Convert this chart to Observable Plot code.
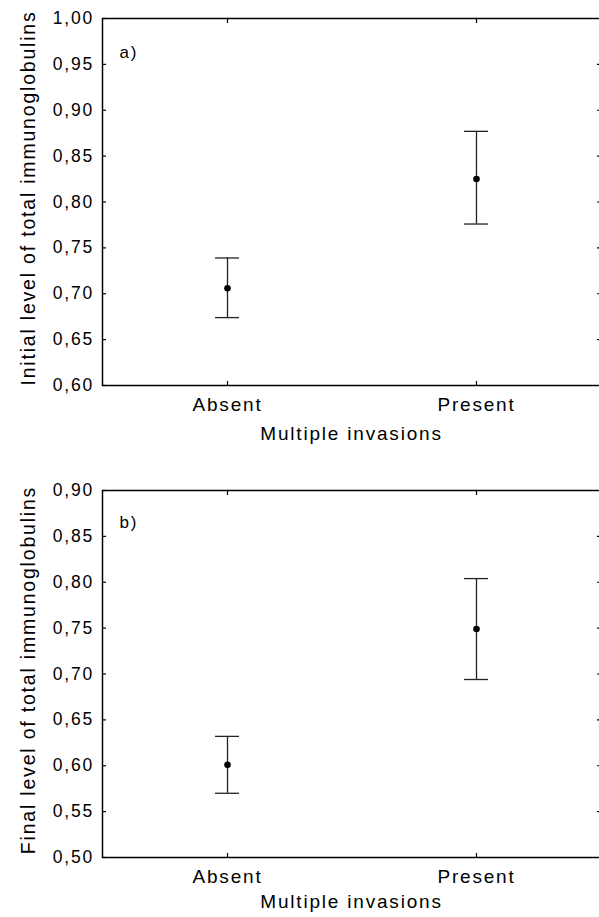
<!DOCTYPE html>
<html>
<head>
<meta charset="utf-8">
<script src="https://cdn.jsdelivr.net/npm/d3@7"></script>
<script src="https://cdn.jsdelivr.net/npm/@observablehq/plot@0.6"></script>
<style>
  html, body { margin: 0; padding: 0; background: #fff; }
  #chart svg { display: block; }
</style>
</head>
<body>
<div id="chart"></div>
<script>
const categories = ["Absent", "Present"];
const initialMean = [0.706, 0.825];
const initialLower = [0.674, 0.776];
const initialUpper = [0.739, 0.877];
const finalMean = [0.601, 0.749];
const finalLower = [0.570, 0.694];
const finalUpper = [0.632, 0.804];
const yTicksA = [0.60, 0.65, 0.70, 0.75, 0.80, 0.85, 0.90, 0.95, 1.00];
const yTicksB = [0.50, 0.55, 0.60, 0.65, 0.70, 0.75, 0.80, 0.85, 0.90];
const xLabel = "Multiple invasions";
const yLabelA = "Initial level of total immunoglobulins";
const yLabelB = "Final level of total immunoglobulins";
const panelLabels = ["a)", "b)"];

const fmt = d => d.toFixed(2).replace(".", ",");

function panel({mean, lower, upper, yTicks, yLabel, tag, height, marginTop, marginBottom, tagDy, xLabelDy}) {
  const data = categories.map((c, i) => ({cat: c, mean: mean[i], lo: lower[i], hi: upper[i]}));
  return Plot.plot({
    width: 599,
    height,
    marginTop,
    marginBottom,
    marginLeft: 102,
    marginRight: -1,
    style: {
      fontFamily: "'Liberation Sans', Arial, Helvetica, sans-serif",
      fontSize: "19px",
      letterSpacing: "1.8px",
      color: "black",
      background: "white",
      overflow: "hidden"
    },
    x: {type: "point", domain: categories, padding: 0.5},
    y: {domain: [yTicks[0], yTicks[yTicks.length - 1]]},
    marks: [
      Plot.frame({stroke: "black", strokeWidth: 1.5}),
      Plot.axisY(yTicks, {anchor: "left", tickSize: -4, tickPadding: 12.5, tickFormat: fmt, fontSize: 17.5, label: null, strokeWidth: 1.2}),
      Plot.axisY(yTicks, {anchor: "right", tickSize: -4, tickFormat: () => "", label: null, strokeWidth: 1.2}),
      Plot.axisX({anchor: "bottom", tickSize: -4, tickPadding: 15.5, label: null, strokeWidth: 1.2}),
      Plot.axisX({anchor: "top", tickSize: -4, tickFormat: () => "", label: null, strokeWidth: 1.2}),
      Plot.ruleX(data, {x: "cat", y1: "lo", y2: "hi", stroke: "#222", strokeWidth: 1.3}),
      Plot.ruleY(data, {x1: "cat", x2: "cat", y: "hi", insetLeft: -12, insetRight: -12, stroke: "#222", strokeWidth: 1.3}),
      Plot.ruleY(data, {x1: "cat", x2: "cat", y: "lo", insetLeft: -12, insetRight: -12, stroke: "#222", strokeWidth: 1.3}),
      Plot.dot(data, {x: "cat", y: "mean", r: 3.3, fill: "black"}),
      Plot.text([tag], {text: d => d, frameAnchor: "top-left", dx: 17, dy: tagDy, textAnchor: "start", fontSize: 17}),
      Plot.text([xLabel], {text: d => d, frameAnchor: "bottom", dy: xLabelDy, fontSize: 19}),
      Plot.text([yLabel], {text: d => d, frameAnchor: "left", dx: -74, dy: -4, rotate: -90, textAnchor: "middle", fontSize: 19.5, letterSpacing: "2px"})
    ]
  });
}

const chart = document.getElementById("chart");
chart.append(panel({
  mean: initialMean, lower: initialLower, upper: initialUpper,
  yTicks: yTicksA, yLabel: yLabelA, tag: panelLabels[0],
  height: 460, marginTop: 18, marginBottom: 75, tagDy: 27, xLabelDy: 54
}));
chart.append(panel({
  mean: finalMean, lower: finalLower, upper: finalUpper,
  yTicks: yTicksB, yLabel: yLabelB, tag: panelLabels[1],
  height: 457, marginTop: 30, marginBottom: 60, tagDy: 25.5, xLabelDy: 50
}));
</script>
</body>
</html>
